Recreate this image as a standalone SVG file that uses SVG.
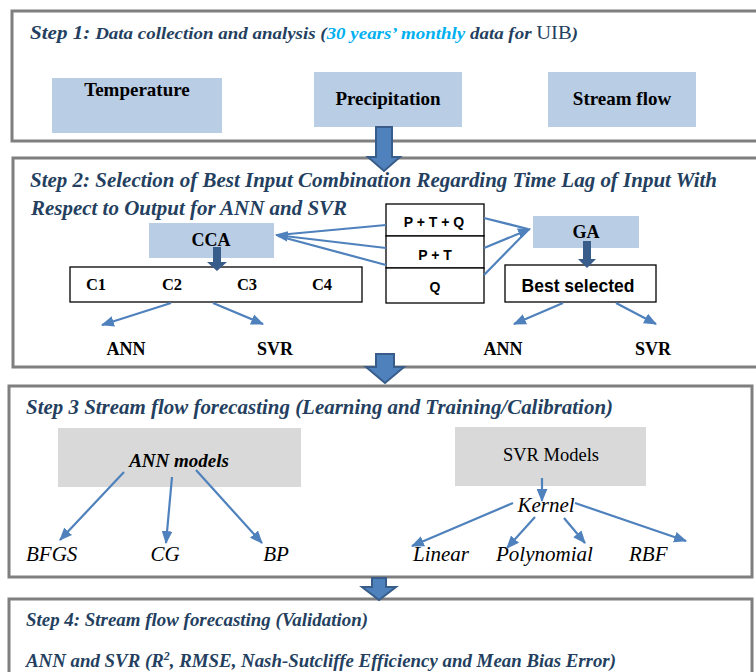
<svg xmlns="http://www.w3.org/2000/svg" width="756" height="672" viewBox="0 0 756 672">
<defs>
<marker id="ah" viewBox="0 0 12 10" refX="11" refY="5" markerWidth="13" markerHeight="11" markerUnits="userSpaceOnUse" orient="auto">
<path d="M0,0 L12,5 L0,10 Z" fill="#4F81BD"/>
</marker>
<style>
.step{fill:#fff;stroke:#7F7F7F;stroke-width:3}
.blue{fill:#B9CDE5}
.grey{fill:#D9D9D9}
.wbox{fill:#fff;stroke:#000;stroke-width:1.3}
.title{font-family:"Liberation Serif",serif;font-weight:bold;font-style:italic;fill:#243F60}
.lbl{font-family:"Liberation Serif",serif;font-weight:bold;fill:#000;text-anchor:middle}
.sans{font-family:"Liberation Sans",Arial,sans-serif;font-weight:bold;fill:#000;text-anchor:middle}
.it{font-family:"Liberation Serif",serif;font-style:italic;fill:#000;font-size:21px}
.conn line{stroke:#4F81BD;stroke-width:2.2}
.big{fill:#4F81BD;stroke:#385D8A;stroke-width:2}
.small{fill:#385D8A}
</style>
</defs>

<!-- Step frames -->
<g id="step1">
<rect class="step" x="12" y="11" width="752" height="130"/>
<text class="title" x="30" y="39" font-size="17.5" textLength="548" lengthAdjust="spacingAndGlyphs"><tspan font-size="19.5">Step 1:</tspan> Data collection and analysis (<tspan fill="#00B0F0">30 years’ monthly</tspan> data for <tspan font-weight="normal" font-style="normal" font-size="19">UIB</tspan>)</text>
</g>
<g id="step2">
<rect class="step" x="13" y="158" width="752" height="209"/>
<text class="title" x="30" y="187" font-size="20.5" textLength="687" lengthAdjust="spacingAndGlyphs">Step 2: Selection of Best Input Combination Regarding Time Lag of Input With</text>
<text class="title" x="31" y="215" font-size="20.5" textLength="316" lengthAdjust="spacingAndGlyphs">Respect to Output for ANN and SVR</text>
</g>
<g id="step3">
<rect class="step" x="9" y="386" width="743" height="191"/>
<text class="title" x="26" y="414" font-size="20.5" textLength="587" lengthAdjust="spacingAndGlyphs">Step 3 Stream flow forecasting (Learning and Training/Calibration)</text>
</g>
<g id="step4">
<rect class="step" x="9" y="599" width="743" height="90"/>
<text class="title" x="26" y="626" font-size="19" textLength="342" lengthAdjust="spacingAndGlyphs">Step 4: Stream flow forecasting (Validation)</text>
<text class="title" x="26" y="667" font-size="19" textLength="590" lengthAdjust="spacingAndGlyphs">ANN and SVR (R<tspan font-size="12" dy="-7">2</tspan><tspan dy="7">, RMSE, Nash-Sutcliffe Efficiency and Mean Bias Error)</tspan></text>
</g>

<!-- Step 1 nodes -->
<g id="temperature">
<rect class="blue" x="52" y="78" width="170" height="55"/>
<text class="lbl" x="137" y="96" font-size="19">Temperature</text>
</g>
<g id="precipitation">
<rect class="blue" x="314" y="72" width="148" height="55"/>
<text class="lbl" x="388" y="105" font-size="19">Precipitation</text>
</g>
<g id="streamflow">
<rect class="blue" x="548" y="72" width="148" height="55"/>
<text class="lbl" x="622" y="105" font-size="19">Stream flow</text>
</g>

<!-- Step 2 nodes -->
<g id="cca">
<rect class="blue" x="149" y="223" width="125" height="35"/>
<text class="lbl" x="211" y="246" font-size="18">CCA</text>
</g>
<g id="cbox">
<rect class="wbox" x="70" y="267" width="292" height="35"/>
<text class="lbl" x="96" y="290" font-size="16.5">C1</text>
<text class="lbl" x="172" y="290" font-size="16.5">C2</text>
<text class="lbl" x="247" y="290" font-size="16.5">C3</text>
<text class="lbl" x="322" y="290" font-size="16.5">C4</text>
</g>
<g id="combos">
<rect class="wbox" x="386" y="204" width="98" height="32"/>
<rect class="wbox" x="386" y="236" width="98" height="32"/>
<rect class="wbox" x="386" y="268" width="98" height="35"/>
<text class="sans" x="434" y="227" font-size="14">P + T + Q</text>
<text class="sans" x="435" y="260" font-size="14">P + T</text>
<text class="sans" x="435" y="292" font-size="14">Q</text>
</g>
<g id="ga">
<rect class="blue" x="533" y="216" width="106" height="32"/>
<text class="lbl" x="586" y="238" font-size="18">GA</text>
</g>
<g id="best">
<rect class="wbox" x="505" y="265" width="151" height="37"/>
<text class="sans" x="578" y="292" font-size="17.5">Best selected</text>
</g>
<g id="ann1"><text class="lbl" x="126" y="355" font-size="18">ANN</text></g>
<g id="svr1"><text class="lbl" x="275" y="355" font-size="18">SVR</text></g>
<g id="ann2"><text class="lbl" x="503" y="355" font-size="18">ANN</text></g>
<g id="svr2"><text class="lbl" x="653" y="355" font-size="18">SVR</text></g>

<!-- Step 3 nodes -->
<g id="annmodels">
<rect class="grey" x="58" y="428" width="243" height="59"/>
<text class="lbl" x="179" y="467" font-size="19" font-style="italic">ANN models</text>
</g>
<g id="svrmodels">
<rect class="grey" x="455" y="427" width="191" height="59"/>
<text x="551" y="461" font-size="18.5" font-family="Liberation Serif,serif" text-anchor="middle" fill="#000">SVR Models</text>
</g>
<g id="kernel"><text class="it" x="546" y="512" font-size="20" text-anchor="middle">Kernel</text></g>
<g id="bfgs"><text class="it" x="26" y="561">BFGS</text></g>
<g id="cg"><text class="it" x="165" y="561" text-anchor="middle">CG</text></g>
<g id="bp"><text class="it" x="276" y="561" text-anchor="middle">BP</text></g>
<g id="linear"><text class="it" x="413" y="561">Linear</text></g>
<g id="polynomial"><text class="it" x="496" y="561">Polynomial</text></g>
<g id="rbf"><text class="it" x="629" y="561">RBF</text></g>

<!-- Connectors -->
<g id="connectors" class="conn">
<line x1="386" y1="225" x2="278" y2="235"/>
<line x1="386" y1="248" x2="276" y2="235" marker-end="url(#ah)"/>
<line x1="386" y1="265" x2="278" y2="236"/>
<line x1="484" y1="218" x2="528" y2="229"/>
<line x1="484" y1="248" x2="530" y2="229" marker-end="url(#ah)"/>
<line x1="484" y1="275" x2="528" y2="230"/>
<line x1="171" y1="303" x2="102" y2="325" marker-end="url(#ah)"/>
<line x1="213" y1="303" x2="263" y2="324" marker-end="url(#ah)"/>
<line x1="563" y1="303" x2="514" y2="324" marker-end="url(#ah)"/>
<line x1="616" y1="303" x2="656" y2="324" marker-end="url(#ah)"/>
<line x1="124" y1="472" x2="60" y2="540" marker-end="url(#ah)"/>
<line x1="172" y1="477" x2="166" y2="543" marker-end="url(#ah)"/>
<line x1="196" y1="470" x2="262" y2="543" marker-end="url(#ah)"/>
<line x1="542" y1="478" x2="542" y2="501" marker-end="url(#ah)"/>
<line x1="513" y1="503" x2="412" y2="546" marker-end="url(#ah)"/>
<line x1="535" y1="517" x2="507" y2="548" marker-end="url(#ah)"/>
<line x1="564" y1="518" x2="585" y2="543" marker-end="url(#ah)"/>
<line x1="575" y1="503" x2="686" y2="541" marker-end="url(#ah)"/>
<polygon class="small" points="213,247 221,247 221,262 227,262 217,271 207,262 213,262"/>
<polygon class="small" points="583,241 591,241 591,259 596,259 587,268 578,259 583,259"/>
<polygon class="big" points="376,127 392,127 392,157 400,157 384,171 368,157 376,157"/>
<polygon class="big" points="376,354 394,354 394,367 404,367 385,383 366,367 376,367"/>
<polygon class="big" points="372,578 386,578 386,587 396,587 379,600 362,587 372,587"/>
</g>
</svg>
